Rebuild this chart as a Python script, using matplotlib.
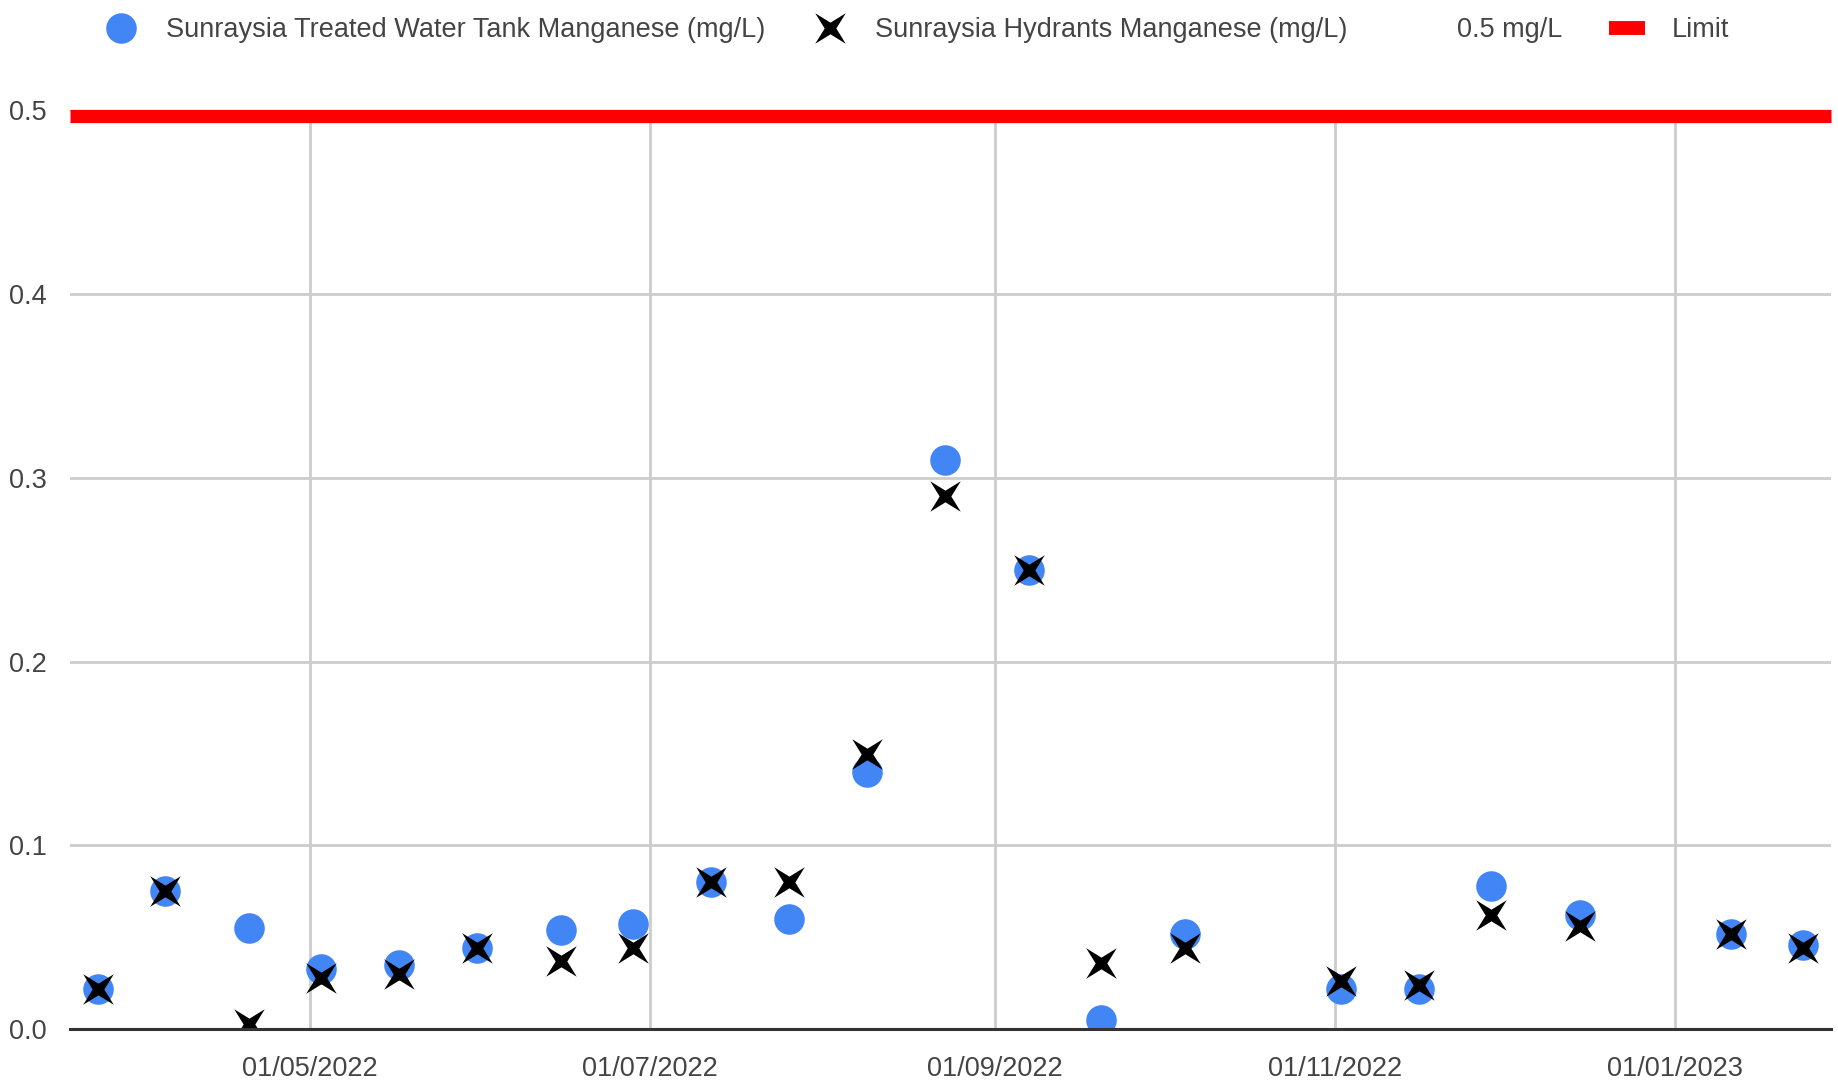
import matplotlib
matplotlib.use('Agg')
from matplotlib import pyplot as plt
import matplotlib.dates as mdates
import matplotlib.transforms as mtransforms
from matplotlib.path import Path
from matplotlib.lines import Line2D
import numpy as np
import pandas as pd

plt.rcParams['font.family'] = ['Liberation Sans', 'DejaVu Sans']

sample_dates = ['2022-03-24', '2022-04-05', '2022-04-20', '2022-05-03', '2022-05-17',
                '2022-05-31', '2022-06-15', '2022-06-28', '2022-07-12', '2022-07-26',
                '2022-08-09', '2022-08-23', '2022-09-07', '2022-09-20', '2022-10-05',
                '2022-11-02', '2022-11-16', '2022-11-29', '2022-12-15', '2023-01-11',
                '2023-01-24']
tank_mn = [0.022, 0.075, 0.055, 0.033, 0.035, 0.044, 0.054, 0.057, 0.080, 0.060,
           0.140, 0.310, 0.250, 0.005, 0.052, 0.022, 0.022, 0.078, 0.062, 0.052,
           0.046]
hydrant_mn = [0.022, 0.075, 0.003, 0.028, 0.030, 0.044, 0.037, 0.044, 0.080, 0.080,
              0.150, 0.290, 0.250, 0.036, 0.044, 0.026, 0.024, 0.062, 0.056, 0.052,
              0.044]
limit = 0.5
y_ticks = [0.0, 0.1, 0.2, 0.3, 0.4, 0.5]
x_range = ['2022-03-19', '2023-01-29']

dates = pd.to_datetime(sample_dates)

# four pointed star, turned 45 degrees, like the chart's "x"
ang = np.deg2rad(np.arange(8) * 45 + 45)
rad = np.where(np.arange(8) % 2 == 0, 1.0, 0.27)
verts = np.column_stack([rad * np.cos(ang), rad * np.sin(ang)])
verts = np.vstack([verts, verts[:1]])
codes = [Path.MOVETO] + [Path.LINETO] * 7 + [Path.CLOSEPOLY]
star_x = Path(verts, codes)

blue = '#4285f4'
grid_c = '#cccccc'
text_c = '#444444'
fs = 19.5

fig = plt.figure(figsize=(18.38, 10.86), dpi=100)
ax = fig.add_axes([0.0382, 0.0523, 0.958, 0.846])

ax.plot(dates, tank_mn, linestyle='none', marker='o', markersize=22,
        color=blue, markeredgewidth=0, zorder=3)
ax.plot(dates, hydrant_mn, linestyle='none', marker=star_x, markersize=22,
        color='black', markeredgewidth=0, zorder=4)

red = ax.axhline(limit, color='#ff0000', lw=9.5, solid_capstyle='butt',
                 clip_on=False, zorder=5)
red.set_transform(mtransforms.offset_copy(ax.get_yaxis_transform(), fig=fig,
                                          y=-6, units='dots'))

ax.set_xlim(pd.to_datetime(x_range[0]), pd.to_datetime(x_range[1]))
ax.set_ylim(0, limit)
ax.set_yticks(y_ticks)
ax.set_yticklabels([f'{v:.1f}' for v in y_ticks])
ax.xaxis.set_major_locator(mdates.MonthLocator(bymonth=[1, 3, 5, 7, 9, 11]))
ax.xaxis.set_major_formatter(mdates.DateFormatter('%d/%m/%Y'))

ax.grid(True, color=grid_c, lw=2)
ax.set_axisbelow(True)
for s in ['top', 'right', 'left']:
    ax.spines[s].set_visible(False)
ax.spines['bottom'].set_color('#333333')
ax.spines['bottom'].set_linewidth(2.2)
ax.spines['bottom'].set_zorder(6)
ax.tick_params(length=0, labelsize=fs, colors=text_c)
ax.tick_params(axis='x', pad=19)
ax.tick_params(axis='y', pad=17)

handles = [
    Line2D([], [], linestyle='none', marker='o', markersize=22, color=blue, markeredgewidth=0),
    Line2D([], [], linestyle='none', marker=star_x, markersize=22, color='black', markeredgewidth=0),
    Line2D([], [], linestyle='none', marker=None),
    Line2D([], [], color='#ff0000', lw=10, solid_capstyle='butt'),
]
labels = ['Sunraysia Treated Water Tank Manganese (mg/L)',
          'Sunraysia Hydrants Manganese (mg/L)', '0.5 mg/L', 'Limit']
leg = fig.legend(handles, labels, loc='center left', bbox_to_anchor=(0.043, 0.972),
                 ncol=4, frameon=False, fontsize=fs, handlelength=1.3,
                 handletextpad=1.0, columnspacing=1.75, labelcolor=text_c)

fig.savefig('out.png', dpi=100)
